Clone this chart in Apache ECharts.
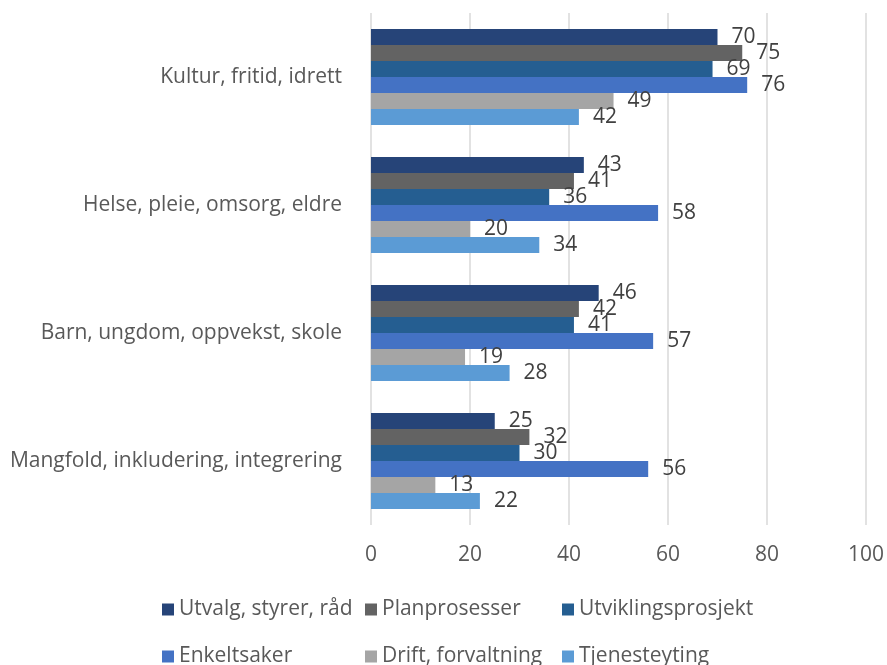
<!DOCTYPE html>
<html>
<head>
<meta charset="utf-8">
<script src="https://cdn.jsdelivr.net/npm/echarts@6/dist/echarts.min.js"></script>
<style>
  html, body { margin: 0; padding: 0; background: #fff; }
  #chart { width: 887px; height: 665px; }
</style>
</head>
<body>
<div id="chart"></div>
<script>
// categories top to bottom
var categories = ['Kultur, fritid, idrett', 'Helse, pleie, omsorg, eldre', 'Barn, ungdom, oppvekst, skole', 'Mangfold, inkludering, integrering']
var seriesNames = ['Utvalg, styrer, råd', 'Planprosesser', 'Utviklingsprosjekt', 'Enkeltsaker', 'Drift, forvaltning', 'Tjenesteyting']
var utvalg = [70, 43, 46, 25]
var planprosesser = [75, 41, 42, 32]
var utvikling = [69, 36, 41, 30]
var enkeltsaker = [76, 58, 57, 56]
var drift = [49, 20, 19, 13]
var tjenesteyting = [42, 34, 28, 22]
var xTicks = [0, 20, 40, 60, 80, 100]

var colors = ['#264478', '#636363', '#255E91', '#4472C4', '#A5A5A5', '#5B9BD5']
var values = [utvalg, planprosesser, utvikling, enkeltsaker, drift, tjenesteyting]
var font = '"Open Sans", sans-serif'

var chart = echarts.init(document.getElementById('chart'))

var series = seriesNames.map(function(name, i) {
  return {
    name: name,
    type: 'bar',
    data: values[i],
    barGap: '0%',
    barCategoryGap: '25%',
    itemStyle: { color: colors[i] },
    label: {
      show: true,
      position: 'right',
      distance: 14,
      color: '#404040',
      fontSize: 21,
      fontFamily: font
    },
    animation: false
  }
})

// one legend per item so the two rows line up in columns
var legendLeft = [157, 360, 557]
var legendTop = [594, 641]
var legends = seriesNames.map(function(name, i) {
  return {
    data: [name],
    left: legendLeft[i % 3],
    top: legendTop[Math.floor(i / 3)],
    itemWidth: 12,
    itemHeight: 12,
    itemGap: 0,
    icon: 'rect',
    textStyle: { color: '#595959', fontSize: 21, fontFamily: font }
  }
})

chart.setOption({
  color: colors,
  grid: { left: 371, right: 21, top: 13, bottom: 140 },
  legend: legends,
  xAxis: {
    type: 'value',
    min: xTicks[0],
    max: xTicks[xTicks.length - 1],
    interval: 20,
    axisLine: { show: false },
    axisTick: { show: false },
    splitLine: { lineStyle: { color: '#D9D9D9', width: 1.5 } },
    axisLabel: { color: '#595959', fontSize: 21, fontFamily: font, margin: 20 }
  },
  yAxis: {
    type: 'category',
    data: categories,
    inverse: true,
    axisLine: { show: false },
    axisTick: { show: false },
    axisLabel: { color: '#595959', fontSize: 21, fontFamily: font, margin: 29 }
  },
  series: series
})
</script>
</body>
</html>
